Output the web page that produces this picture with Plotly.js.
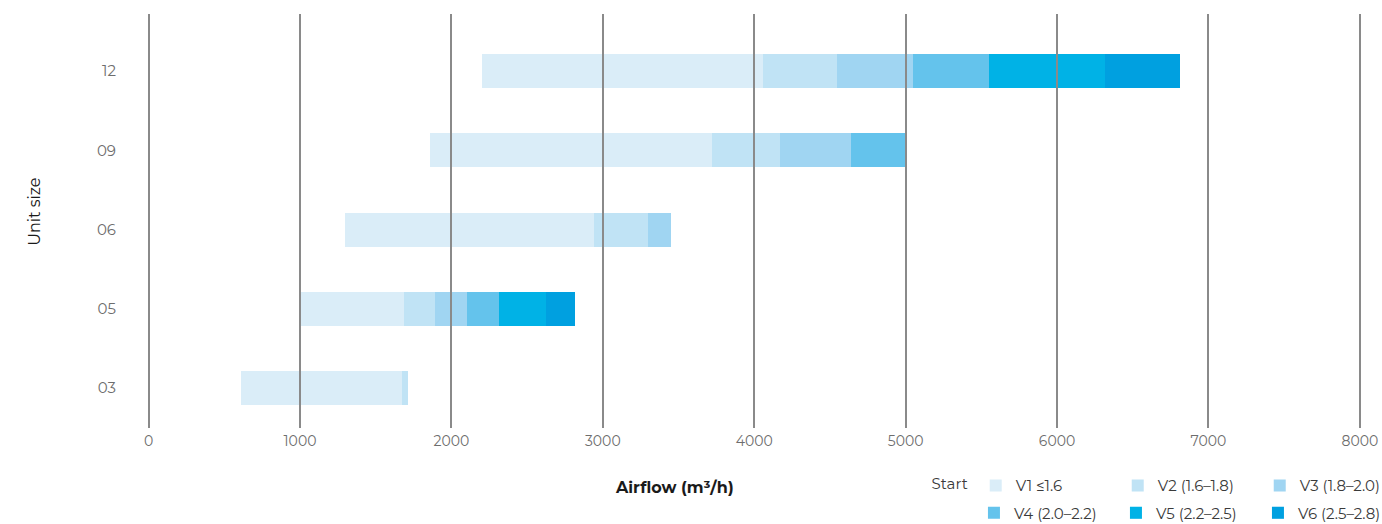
<!DOCTYPE html>
<html>
<head>
<meta charset="utf-8">
<script src="https://cdn.plot.ly/plotly-3.0.1.min.js"></script>
<style>html,body{margin:0;padding:0;background:#fff;}#chart{width:1382px;height:524px;}</style>
</head>
<body>
<div id="chart"></div>
<script>
// Unit sizes (bottom to top)
const categories = ['03', '05', '06', '09', '12'];
// Airflow where each bar starts (m³/h)
const startValues = [610, 1000, 1300, 1860, 2200];
// Width of each velocity band (m³/h)
const v1Values = [1065, 685, 1640, 1860, 1860];
const v2Values = [40, 210, 360, 450, 490];
const v3Values = [null, 210, 150, 470, 500];
const v4Values = [null, 210, null, 370, 500];
const v5Values = [null, 310, null, null, 770];
const v6Values = [null, 190, null, null, 490];
const seriesNames = ['V1 ≤1.6', 'V2 (1.6–1.8)', 'V3 (1.8–2.0)', 'V4 (2.0–2.2)', 'V5 (2.2–2.5)', 'V6 (2.5–2.8)'];
const seriesValues = [v1Values, v2Values, v3Values, v4Values, v5Values, v6Values];
const seriesColors = ['#daedf8', '#c0e3f5', '#a0d5f2', '#64c3ec', '#00b2e6', '#00a0e0'];
const xTicks = [0, 1000, 2000, 3000, 4000, 5000, 6000, 7000, 8000];

const FONT = 'Montserrat, "Open Sans", "Noto Sans", sans-serif';

const traces = [{
  type: 'bar', orientation: 'h', name: 'Start',
  y: categories, x: startValues,
  marker: {color: 'rgba(0,0,0,0)', line: {width: 0}},
  showlegend: false, hoverinfo: 'skip', width: 0.43
}];
seriesValues.forEach((vals, i) => {
  traces.push({
    type: 'bar', orientation: 'h', name: seriesNames[i],
    y: categories, x: vals,
    marker: {color: seriesColors[i], line: {width: 0}},
    width: 0.43,
    legend: i < 3 ? 'legend' : 'legend2'
  });
});

const legendCommon = {
  orientation: 'h', xanchor: 'left', yanchor: 'top',
  font: {family: FONT, size: 15, color: '#3a3a3a'},
  bgcolor: 'rgba(0,0,0,0)', entrywidth: 97, entrywidthmode: 'pixels',
  traceorder: 'normal'
};

const layout = {
  width: 1382, height: 524,
  margin: {l: 141.4, r: 6.8, t: 15, b: 96, pad: 0, autoexpand: false},
  paper_bgcolor: '#ffffff', plot_bgcolor: '#ffffff',
  barmode: 'stack', bargap: 0.57,
  font: {family: FONT},
  showlegend: true,
  xaxis: {
    range: [-50, 8100],
    tickvals: xTicks, ticktext: xTicks.map(String),
    showgrid: false, zeroline: false, showline: false,
    ticks: 'inside', ticklen: 414, tickwidth: 2, tickcolor: '#8a8a8a',
    layer: 'above traces',
    tickfont: {family: FONT, size: 14, color: '#6d6d6d'},
    ticklabelstandoff: 3,
    fixedrange: true
  },
  yaxis: {
    type: 'category', categoryorder: 'array', categoryarray: categories,
    range: [-0.505, 4.71],
    showgrid: false, zeroline: false, showline: false, ticks: '',
    tickfont: {family: FONT, size: 15, color: '#6d6d6d'},
    ticklabelstandoff: 24,
    fixedrange: true
  },
  legend: Object.assign({}, legendCommon, {
    x: 0.639, y: -0.100,
    title: {text: 'Start', side: 'left', font: {family: FONT, size: 15, color: '#3a3a3a'}}
  }),
  legend2: Object.assign({}, legendCommon, {
    x: 0.675, y: -0.166
  }),
  annotations: [
    {text: 'Unit size', xref: 'paper', yref: 'paper', x: -0.087, y: 0.523,
     textangle: -90, showarrow: false, xanchor: 'center', yanchor: 'middle',
     font: {family: FONT, size: 16, color: '#1a1a1a'}},
    {text: '<b>Airflow (m³/h)</b>', xref: 'paper', yref: 'paper', x: 0.4325, y: -0.143,
     showarrow: false, xanchor: 'center', yanchor: 'middle',
     font: {family: FONT, size: 16, color: '#1a1a1a'}}
  ]
};

Plotly.newPlot('chart', traces, layout, {displayModeBar: false, staticPlot: true});
</script>
</body>
</html>
